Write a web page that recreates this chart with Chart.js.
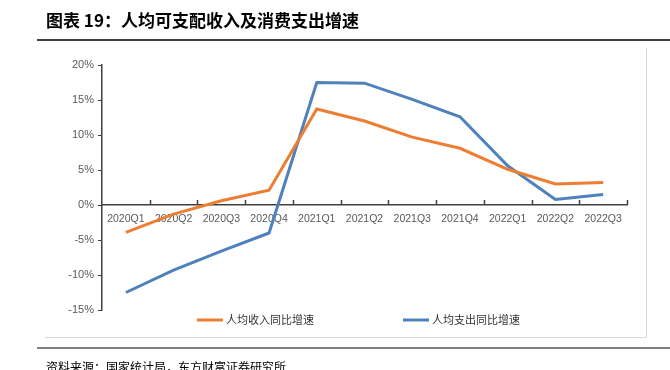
<!DOCTYPE html>
<html>
<head>
<meta charset="utf-8">
<script src="https://cdn.jsdelivr.net/npm/chart.js@4/dist/chart.umd.min.js"></script>
<style>
  html, body { margin: 0; padding: 0; background: #fff; }
  #wrap { width: 670px; height: 370px; }
</style>
</head>
<body>
<div id="wrap"><canvas id="chart" width="670" height="370"></canvas></div>
<script>
// data
const categories = ['2020Q1', '2020Q2', '2020Q3', '2020Q4', '2021Q1', '2021Q2', '2021Q3', '2021Q4', '2022Q1', '2022Q2', '2022Q3'];
const incomeGrowth = [-3.9, -1.3, 0.6, 2.1, 13.7, 12.0, 9.7, 8.1, 5.1, 3.0, 3.2];
const spendingGrowth = [-12.5, -9.3, -6.6, -4.0, 17.5, 17.4, 15.1, 12.6, 5.6, 0.8, 1.5];
const yTicks = [20, 15, 10, 5, 0, -5, -10, -15];

const titleText = '图表 19：人均可支配收入及消费支出增速';
const sourceText = '资料来源：国家统计局，东方财富证券研究所';

const ORANGE = '#ED7D31';
const BLUE = '#4F81BD';
const CJK = '"Noto Sans CJK SC", sans-serif';

const decorations = {
  id: 'decorations',
  afterDraw(chart) {
    const ctx = chart.ctx;
    const x = chart.scales.x;
    const y = chart.scales.y;
    ctx.save();

    // title + rules
    ctx.fillStyle = '#000';
    ctx.font = 'bold 17px ' + CJK;
    ctx.textBaseline = 'middle';
    ctx.fillText(titleText, 46, 21);
    ctx.strokeStyle = '#000';
    ctx.lineWidth = 1.5;
    ctx.beginPath(); ctx.moveTo(37, 40); ctx.lineTo(670, 40); ctx.stroke();

    // frame of the chart box
    ctx.strokeStyle = '#d9d9d9';
    ctx.lineWidth = 1;
    ctx.beginPath();
    ctx.moveTo(646.5, 48); ctx.lineTo(646.5, 337.5); ctx.lineTo(45, 337.5);
    ctx.stroke();

    ctx.strokeStyle = '#7f7f7f';
    ctx.lineWidth = 2;
    ctx.beginPath(); ctx.moveTo(37, 348); ctx.lineTo(670, 348); ctx.stroke();

    ctx.fillStyle = '#000';
    ctx.font = '12px ' + CJK;
    ctx.fillText(sourceText, 46, 367);

    // x tick marks, pointing up from the zero line
    const zeroY = y.getPixelForValue(0);
    const step = (x.right - x.left) / categories.length;
    ctx.strokeStyle = '#404040';
    ctx.lineWidth = 1.5;
    for (let i = 1; i <= categories.length; i++) {
      const px = Math.round(x.left + i * step) + 0.5;
      ctx.beginPath(); ctx.moveTo(px, zeroY); ctx.lineTo(px, zeroY - 5); ctx.stroke();
    }

    // legend
    const items = [[197, 0], [403, 1]];
    ctx.font = '11px ' + CJK;
    items.forEach(([lx, di]) => {
      const ds = chart.data.datasets[di];
      ctx.strokeStyle = ds.borderColor;
      ctx.lineWidth = 3;
      ctx.beginPath(); ctx.moveTo(lx, 320); ctx.lineTo(lx + 26, 320); ctx.stroke();
      ctx.fillStyle = '#333';
      ctx.fillText(ds.label, lx + 29, 320);
    });
    ctx.restore();
  }
};

new Chart(document.getElementById('chart'), {
  type: 'line',
  data: {
    labels: categories,
    datasets: [
      { label: '人均收入同比增速', data: incomeGrowth, borderColor: ORANGE, backgroundColor: ORANGE, borderWidth: 3, pointRadius: 0, tension: 0 },
      { label: '人均支出同比增速', data: spendingGrowth, borderColor: BLUE, backgroundColor: BLUE, borderWidth: 3, pointRadius: 0, tension: 0 }
    ]
  },
  options: {
    responsive: false,
    animation: false,
    layout: { padding: { left: 0, right: 43, top: 65, bottom: 60 } },
    plugins: { legend: { display: false }, tooltip: { enabled: false } },
    scales: {
      x: {
        position: { y: 0 },
        offset: true,
        grid: { display: false, offset: true, drawTicks: false },
        border: { display: true, color: '#404040', width: 1.5 },
        ticks: { color: '#595959', font: { family: '"Liberation Sans", Arial, sans-serif', size: 10.5 }, padding: 8, maxRotation: 0, autoSkip: false }
      },
      y: {
        min: -15,
        max: 20,
        afterFit(scale) { scale.width = 102; },
        afterBuildTicks(scale) { scale.ticks = yTicks.map(v => ({ value: v })); },
        grid: { drawOnChartArea: false, drawTicks: true, tickLength: 4, color: '#404040' },
        border: { display: true, color: '#404040', width: 1.5 },
        ticks: { color: '#595959', font: { family: '"Liberation Sans", Arial, sans-serif', size: 11 }, padding: 4, callback: v => v + '%' }
      }
    }
  },
  plugins: [decorations]
});
</script>
</body>
</html>
